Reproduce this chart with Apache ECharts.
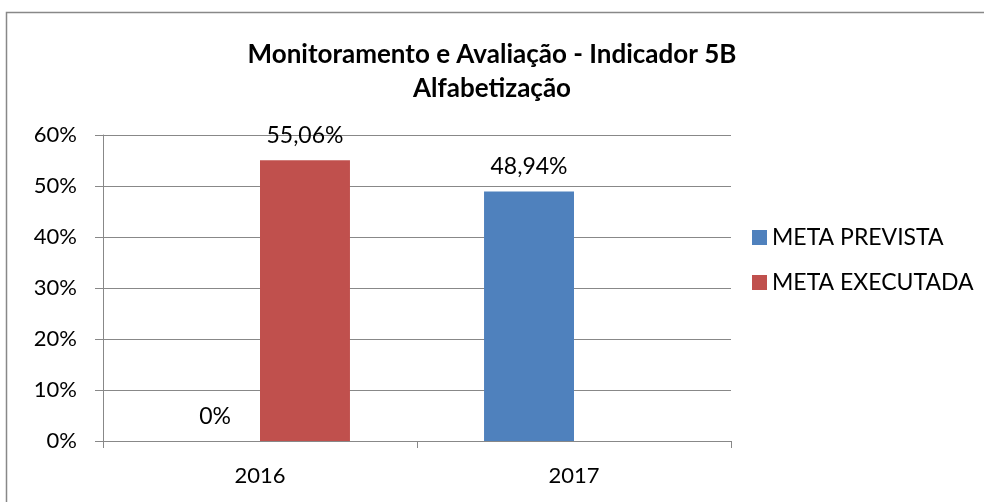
<!DOCTYPE html>
<html>
<head>
<meta charset="utf-8">
<script src="https://cdn.jsdelivr.net/npm/echarts@6/dist/echarts.min.js"></script>
<style>html,body{margin:0;padding:0;background:#fff}#c{width:984px;height:502px}</style>
</head>
<body>
<div id="c"></div>
<script>
const categories = ['2016', '2017'];
const metaPrevista = [0, 48.94];
const metaExecutada = [55.06, null];
const seriesNames = ['META PREVISTA', 'META EXECUTADA'];
const titleText = 'Monitoramento e Avaliação - Indicador 5B\nAlfabetização';

const FONT = 'Lato, "Liberation Sans", sans-serif';
const fmt = v => (v === 0 ? '0%' : v.toFixed(2).replace('.', ',') + '%');

const chart = echarts.init(document.getElementById('c'), null, {renderer: 'canvas'});
const labelCfg = {
  show: true, position: 'top', distance: 13,
  fontFamily: FONT, fontSize: 23, color: '#000',
  formatter: p => fmt(p.value)
};
chart.setOption({
  backgroundColor: '#fff',
  animation: false,
  title: {
    text: titleText, left: 'center', top: 33,
    textStyle: {fontFamily: FONT, fontSize: 26, fontWeight: 'bold', color: '#000', lineHeight: 34}
  },
  graphic: [{
    type: 'rect', shape: {x: 6.5, y: 12.5, width: 1000, height: 1000},
    style: {fill: 'none', stroke: '#888', lineWidth: 1.5}, silent: true
  }],
  legend: {
    orient: 'vertical', left: 747, top: 221, itemWidth: 15, itemHeight: 15, itemGap: 22,
    icon: 'rect',
    textStyle: {fontFamily: FONT, fontSize: 23, color: '#000'},
    data: seriesNames
  },
  grid: {left: 103, right: 253, top: 135, bottom: 61},
  xAxis: {
    type: 'category', data: categories,
    axisLine: {lineStyle: {color: '#888'}},
    axisTick: {show: true, length: 7, lineStyle: {color: '#888'}},
    axisLabel: {fontFamily: FONT, fontSize: 22, color: '#000', margin: 24}
  },
  yAxis: {
    type: 'value', min: 0, max: 60, interval: 10,
    axisLine: {show: true, lineStyle: {color: '#888'}},
    axisTick: {show: true, length: 8, lineStyle: {color: '#888'}},
    splitLine: {lineStyle: {color: '#888'}},
    axisLabel: {fontFamily: FONT, fontSize: 22, color: '#000', margin: 26, formatter: v => v + '%'}
  },
  series: [
    {name: seriesNames[0], type: 'bar', data: metaPrevista, itemStyle: {color: '#4F81BD'},
     barGap: '0%', barCategoryGap: '42.7%', label: labelCfg},
    {name: seriesNames[1], type: 'bar', data: metaExecutada, itemStyle: {color: '#C0504D'},
     barGap: '0%', barCategoryGap: '42.7%', label: labelCfg}
  ]
});
</script>
</body>
</html>
